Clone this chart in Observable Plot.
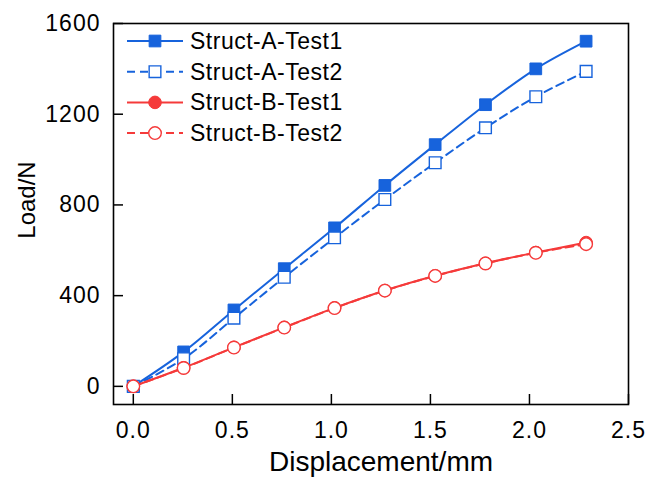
<!DOCTYPE html>
<html><head><meta charset="utf-8">
<script src="https://cdn.jsdelivr.net/npm/d3@7"></script>
<script src="https://cdn.jsdelivr.net/npm/@observablehq/plot@0.6"></script>
<style>body{margin:0;background:#fff;} svg{display:block;}</style>
</head><body><div id="chart"></div>
<script>
const displacement = [0, 0.254, 0.508, 0.762, 1.016, 1.270, 1.524, 1.778, 2.032, 2.286];
const loadA1 = [0, 152, 337, 519, 699, 886, 1066, 1242, 1400, 1522];
const loadA2 = [0, 122, 301, 481, 655, 824, 986, 1140, 1277, 1389];
const loadB1 = [0, 82, 172, 260, 346, 423, 488, 543, 590, 634];
const loadB2 = [0, 81, 171, 259, 345, 422, 487, 542, 589, 627];
const seriesNames = ["Struct-A-Test1", "Struct-A-Test2", "Struct-B-Test1", "Struct-B-Test2"];
const xTicks = [0, 0.5, 1, 1.5, 2, 2.5];
const yTicks = [0, 400, 800, 1200, 1600];
const xTitle = "Displacement/mm";
const yTitle = "Load/N";

const FONT = '"Liberation Sans", Arial, sans-serif';
const BLUE = "#1763DC", RED = "#F53A3A";
const styles = [
  {color: BLUE, dash: null, symbol: "square", filled: true},
  {color: BLUE, dash: "8,5", symbol: "square", filled: false},
  {color: RED, dash: null, symbol: "circle", filled: true},
  {color: RED, dash: "8,5", symbol: "circle", filled: false}
];
const loads = [loadA1, loadA2, loadB1, loadB2];
const rows = loads.flatMap((arr, s) => arr.map((y, i) => ({series: seriesNames[s], x: displacement[i], y})));

const rOf = st => st.symbol === "square" ? 6.6 : 6.3;

const marks = [];
seriesNames.forEach((name, s) => {
  const data = rows.filter(d => d.series === name);
  const st = styles[s];
  marks.push(Plot.line(data, {x: "x", y: "y", stroke: st.color, strokeWidth: 2, strokeDasharray: st.dash || undefined, curve: "catmull-rom"}));
  marks.push(Plot.dot(data, {x: "x", y: "y", symbol: st.symbol, r: rOf(st), fill: st.filled ? st.color : "white", stroke: st.color, strokeWidth: st.filled ? 1 : 1.4}));
});

const chart = Plot.plot({
  width: 662,
  height: 480,
  marginLeft: 113,
  marginRight: 34,
  marginTop: 23,
  marginBottom: 76,
  style: {fontFamily: FONT, background: "white", color: "black"},
  x: {domain: [-0.1, 2.5]},
  y: {domain: [-80, 1600]},
  marks: [
    ...marks,
    Plot.axisX({ticks: xTicks, tickSize: 0, tickPadding: 17, tickFormat: d => d.toFixed(1), fontSize: 23, label: null}),
    Plot.axisY({ticks: yTicks, tickSize: 0, tickPadding: 13, tickFormat: d => String(d), fontSize: 23, label: null}),
    Plot.axisX({ticks: xTicks, tickSize: -10, tickFormat: () => "", strokeWidth: 1.5, label: null}),
    Plot.axisY({ticks: yTicks, tickSize: -10, tickFormat: () => "", strokeWidth: 1.5, label: null}),
    Plot.frame({stroke: "black", strokeWidth: 1.6}),
    Plot.text([xTitle], {frameAnchor: "bottom", textAnchor: "middle", dx: 10, dy: 58, fontSize: 28, lineAnchor: "middle"}),
    Plot.text([yTitle], {frameAnchor: "left", textAnchor: "middle", dx: -86, dy: -14, rotate: -90, fontSize: 24, lineAnchor: "middle"})
  ]
});

// letter spacing to match the wide lettering of the reference
d3.select(chart).selectAll("g[aria-label='x-axis tick label'] text, g[aria-label='y-axis tick label'] text").attr("letter-spacing", 1);

// Legend (inside the frame, top-left)
const xsc = chart.scale("x"), ysc = chart.scale("y");
const frameLeft = Math.min(...xsc.range), frameTop = Math.min(...ysc.range);
const svgSel = d3.select(chart);
const lg = svgSel.append("g").attr("font-family", FONT).attr("font-size", 23).attr("text-anchor", "start");
seriesNames.forEach((name, i) => {
  const st = styles[i];
  const cy = frameTop + 18 + i * 30.7;
  const gx = frameLeft + 14;
  lg.append("line").attr("x1", gx).attr("x2", gx + 56).attr("y1", cy).attr("y2", cy)
    .attr("stroke", st.color).attr("stroke-width", 2)
    .attr("stroke-dasharray", st.dash);
  const r = rOf(st);
  lg.append("path")
    .attr("d", d3.symbol(st.symbol === "square" ? d3.symbolSquare : d3.symbolCircle, Math.PI * r * r)())
    .attr("transform", `translate(${gx + 28},${cy})`)
    .attr("fill", st.filled ? st.color : "white")
    .attr("stroke", st.color).attr("stroke-width", st.filled ? 1 : 1.4);
  lg.append("text").attr("x", gx + 63).attr("y", cy).attr("dy", "0.35em")
    .attr("letter-spacing", 0.5)
    .attr("fill", "black").text(name);
});

document.getElementById("chart").appendChild(chart);
</script>
</body></html>
